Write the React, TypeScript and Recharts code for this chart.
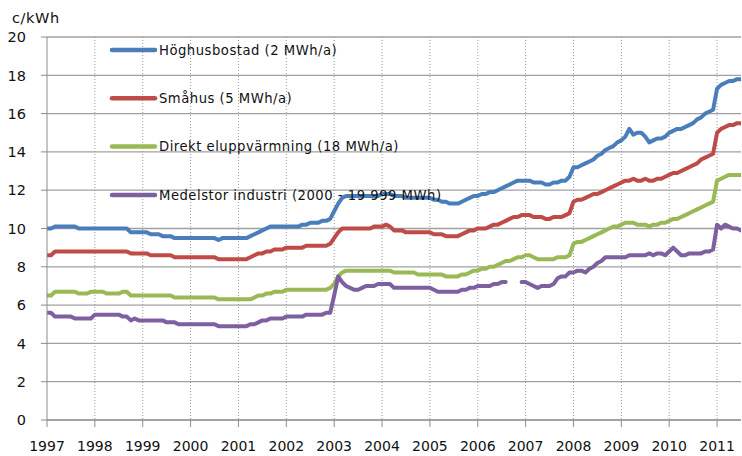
import React from 'react';
import { LineChart, Line, XAxis, YAxis, CartesianGrid, Legend } from 'recharts';

// monthly prices, c/kWh, Jan 1997 – Jul 2011
const hoghus = [
  10.0, 10.0, 10.1, 10.1, 10.1, 10.1, 10.1, 10.1, 10.0, 10.0, 10.0, 10.0,
  10.0, 10.0, 10.0, 10.0, 10.0, 10.0, 10.0, 10.0, 10.0, 9.8, 9.8, 9.8,
  9.8, 9.8, 9.7, 9.7, 9.7, 9.6, 9.6, 9.6, 9.5, 9.5, 9.5, 9.5,
  9.5, 9.5, 9.5, 9.5, 9.5, 9.5, 9.5, 9.4, 9.5, 9.5, 9.5, 9.5,
  9.5, 9.5, 9.5, 9.6, 9.7, 9.8, 9.9, 10.0, 10.1, 10.1, 10.1, 10.1,
  10.1, 10.1, 10.1, 10.1, 10.2, 10.2, 10.3, 10.3, 10.3, 10.4, 10.4, 10.5,
  10.9, 11.3, 11.6, 11.7, 11.7, 11.7, 11.7, 11.7, 11.7, 11.7, 11.7, 11.7,
  11.8, 11.8, 11.8, 11.7, 11.7, 11.7, 11.6, 11.6, 11.6, 11.6, 11.6, 11.6,
  11.6, 11.5, 11.5, 11.4, 11.4, 11.3, 11.3, 11.3, 11.4, 11.5, 11.6, 11.7,
  11.7, 11.8, 11.8, 11.9, 11.9, 12.0, 12.1, 12.2, 12.3, 12.4, 12.5, 12.5,
  12.5, 12.5, 12.4, 12.4, 12.4, 12.3, 12.3, 12.4, 12.4, 12.5, 12.5, 12.7,
  13.2, 13.2, 13.3, 13.4, 13.5, 13.6, 13.8, 13.9, 14.1, 14.2, 14.3, 14.5,
  14.6, 14.8, 15.2, 14.9, 15.0, 15.0, 14.8, 14.5, 14.6, 14.7, 14.7, 14.8,
  15.0, 15.1, 15.2, 15.2, 15.3, 15.4, 15.5, 15.7, 15.8, 16.0, 16.1, 16.2,
  17.3, 17.5, 17.6, 17.7, 17.7, 17.8, 17.8,
];

const smahus = [
  8.6, 8.6, 8.8, 8.8, 8.8, 8.8, 8.8, 8.8, 8.8, 8.8, 8.8, 8.8,
  8.8, 8.8, 8.8, 8.8, 8.8, 8.8, 8.8, 8.8, 8.8, 8.7, 8.7, 8.7,
  8.7, 8.7, 8.6, 8.6, 8.6, 8.6, 8.6, 8.6, 8.5, 8.5, 8.5, 8.5,
  8.5, 8.5, 8.5, 8.5, 8.5, 8.5, 8.5, 8.4, 8.4, 8.4, 8.4, 8.4,
  8.4, 8.4, 8.4, 8.5, 8.6, 8.7, 8.7, 8.8, 8.8, 8.9, 8.9, 8.9,
  9.0, 9.0, 9.0, 9.0, 9.0, 9.1, 9.1, 9.1, 9.1, 9.1, 9.1, 9.2,
  9.5, 9.8, 10.0, 10.0, 10.0, 10.0, 10.0, 10.0, 10.0, 10.0, 10.1, 10.1,
  10.1, 10.2, 10.1, 9.9, 9.9, 9.9, 9.8, 9.8, 9.8, 9.8, 9.8, 9.8,
  9.8, 9.7, 9.7, 9.7, 9.6, 9.6, 9.6, 9.6, 9.7, 9.8, 9.9, 9.9,
  10.0, 10.0, 10.0, 10.1, 10.2, 10.2, 10.3, 10.4, 10.5, 10.6, 10.6, 10.7,
  10.7, 10.7, 10.6, 10.6, 10.6, 10.5, 10.5, 10.6, 10.6, 10.6, 10.7, 10.8,
  11.4, 11.5, 11.5, 11.6, 11.7, 11.8, 11.8, 11.9, 12.0, 12.1, 12.2, 12.3,
  12.4, 12.5, 12.5, 12.6, 12.5, 12.5, 12.6, 12.5, 12.5, 12.6, 12.6, 12.7,
  12.8, 12.9, 12.9, 13.0, 13.1, 13.2, 13.3, 13.4, 13.6, 13.7, 13.8, 13.9,
  15.0, 15.2, 15.3, 15.4, 15.4, 15.5, 15.5,
];

const direkt = [
  6.5, 6.5, 6.7, 6.7, 6.7, 6.7, 6.7, 6.7, 6.6, 6.6, 6.6, 6.7,
  6.7, 6.7, 6.7, 6.6, 6.6, 6.6, 6.6, 6.7, 6.7, 6.5, 6.5, 6.5,
  6.5, 6.5, 6.5, 6.5, 6.5, 6.5, 6.5, 6.5, 6.4, 6.4, 6.4, 6.4,
  6.4, 6.4, 6.4, 6.4, 6.4, 6.4, 6.4, 6.3, 6.3, 6.3, 6.3, 6.3,
  6.3, 6.3, 6.3, 6.3, 6.4, 6.5, 6.5, 6.6, 6.6, 6.7, 6.7, 6.7,
  6.8, 6.8, 6.8, 6.8, 6.8, 6.8, 6.8, 6.8, 6.8, 6.8, 6.8, 6.9,
  7.1, 7.5, 7.7, 7.8, 7.8, 7.8, 7.8, 7.8, 7.8, 7.8, 7.8, 7.8,
  7.8, 7.8, 7.8, 7.7, 7.7, 7.7, 7.7, 7.7, 7.7, 7.6, 7.6, 7.6,
  7.6, 7.6, 7.6, 7.6, 7.5, 7.5, 7.5, 7.5, 7.6, 7.6, 7.7, 7.8,
  7.8, 7.9, 7.9, 8.0, 8.0, 8.1, 8.2, 8.3, 8.3, 8.4, 8.5, 8.5,
  8.6, 8.6, 8.5, 8.4, 8.4, 8.4, 8.4, 8.4, 8.5, 8.5, 8.5, 8.6,
  9.2, 9.3, 9.3, 9.4, 9.5, 9.6, 9.7, 9.8, 9.9, 10.0, 10.1, 10.1,
  10.2, 10.3, 10.3, 10.3, 10.2, 10.2, 10.2, 10.1, 10.2, 10.2, 10.3, 10.3,
  10.4, 10.5, 10.5, 10.6, 10.7, 10.8, 10.9, 11.0, 11.1, 11.2, 11.3, 11.4,
  12.5, 12.6, 12.7, 12.8, 12.8, 12.8, 12.8,
];

// null = no published value (autumn 2006)
const industri = [
  5.6, 5.6, 5.4, 5.4, 5.4, 5.4, 5.4, 5.3, 5.3, 5.3, 5.3, 5.3,
  5.5, 5.5, 5.5, 5.5, 5.5, 5.5, 5.5, 5.4, 5.4, 5.2, 5.3, 5.2,
  5.2, 5.2, 5.2, 5.2, 5.2, 5.2, 5.1, 5.1, 5.1, 5.0, 5.0, 5.0,
  5.0, 5.0, 5.0, 5.0, 5.0, 5.0, 5.0, 4.9, 4.9, 4.9, 4.9, 4.9,
  4.9, 4.9, 4.9, 5.0, 5.0, 5.1, 5.2, 5.2, 5.3, 5.3, 5.3, 5.3,
  5.4, 5.4, 5.4, 5.4, 5.4, 5.5, 5.5, 5.5, 5.5, 5.5, 5.6, 5.6,
  6.5, 7.5, 7.2, 7.0, 6.9, 6.8, 6.8, 6.9, 7.0, 7.0, 7.0, 7.1,
  7.1, 7.1, 7.1, 6.9, 6.9, 6.9, 6.9, 6.9, 6.9, 6.9, 6.9, 6.9,
  6.9, 6.8, 6.7, 6.7, 6.7, 6.7, 6.7, 6.7, 6.8, 6.8, 6.9, 6.9,
  7.0, 7.0, 7.0, 7.0, 7.1, 7.1, 7.2, 7.2, null, null, null, 7.2,
  7.2, 7.1, 7.0, 6.9, 7.0, 7.0, 7.0, 7.1, 7.4, 7.5, 7.5, 7.7,
  7.7, 7.8, 7.8, 7.7, 7.9, 8.0, 8.2, 8.3, 8.5, 8.5, 8.5, 8.5,
  8.5, 8.5, 8.6, 8.6, 8.6, 8.6, 8.6, 8.7, 8.6, 8.7, 8.7, 8.6,
  8.8, 9.0, 8.8, 8.6, 8.6, 8.7, 8.7, 8.7, 8.7, 8.8, 8.8, 8.9,
  10.2, 10.0, 10.2, 10.1, 10.0, 10.0, 9.9,
];

const years = [1997, 1998, 1999, 2000, 2001, 2002, 2003, 2004, 2005, 2006, 2007, 2008, 2009, 2010, 2011];
const yTicks = [0, 2, 4, 6, 8, 10, 12, 14, 16, 18, 20];

const series = [
  { key: 'hoghus', name: 'Höghusbostad (2 MWh/a)', color: '#4a7ebb' },
  { key: 'smahus', name: 'Småhus (5 MWh/a)', color: '#be4b48' },
  { key: 'direkt', name: 'Direkt eluppvärmning (18 MWh/a)', color: '#98b954' },
  { key: 'industri', name: 'Medelstor industri (2000 - 19 999 MWh)', color: '#7d60a0' },
];

const data = hoghus.map((v, i) => ({
  t: 1997 + i / 12,
  hoghus: v,
  smahus: smahus[i],
  direkt: direkt[i],
  industri: industri[i],
}));

const FONT = '"DejaVu Sans", Verdana, sans-serif';

const YTick = ({ y, payload }: any) => (
  <text x={26} y={y} dy="0.36em" textAnchor="end" fontFamily={FONT} fontSize={14.5} fill="#111">
    {payload.value}
  </text>
);

const LegendBox = () => (
  <svg width={380} height={180} style={{ overflow: 'visible' }}>
    {series.map((s, i) => {
      const y = 12 + i * 48.3;
      return (
        <g key={s.key}>
          <line x1={2} x2={45} y1={y} y2={y} stroke={s.color} strokeWidth={4.5} strokeLinecap="round" />
          <text x={49} y={y} dy="0.35em" fontFamily={FONT} fontSize={13.2} letterSpacing={0.5} fill="#111">
            {s.name}
          </text>
        </g>
      );
    })}
  </svg>
);

export default function App() {
  return (
    <div style={{ position: 'absolute', left: 0, top: 0, width: 742, height: 456, background: '#fff' }}>
      <div
        style={{
          position: 'absolute',
          left: 12,
          top: 9,
          fontFamily: FONT,
          fontSize: 14.5,
          letterSpacing: 0.6,
          color: '#111',
          lineHeight: '18px',
        }}
      >
        c/kWh
      </div>
      <LineChart width={742} height={456} data={data} margin={{ top: 37, right: 1, left: 0, bottom: 0 }}>
        <CartesianGrid horizontal={true} vertical={false} stroke="#a0a0a0" strokeWidth={1.3} />
        <CartesianGrid
          horizontal={false}
          vertical={true}
          stroke="#9a9a9a"
          strokeDasharray="1 2"
          verticalPoints={years.slice(1).map((yr) => 47 + ((yr - 1997) / 14.5) * 694)}
        />
        <XAxis
          dataKey="t"
          type="number"
          domain={[1997, 2011.5]}
          ticks={years}
          interval={0}
          allowDataOverflow
          height={36}
          tickSize={7}
          tickMargin={14}
          stroke="#8c8c8c"
          tick={{ fontFamily: FONT, fontSize: 14, fill: '#111' }}
        />
        <YAxis
          domain={[0, 20]}
          ticks={yTicks}
          interval={0}
          width={47}
          tickSize={6}
          stroke="#8c8c8c"
          tick={<YTick />}
        />
        <Legend
          layout="vertical"
          align="center"
          verticalAlign="middle"
          content={<LegendBox />}
          wrapperStyle={{ position: 'absolute', left: 110, top: 38, width: 380, height: 180 }}
        />
        {series.map((s) => (
          <Line
            key={s.key}
            type="linear"
            dataKey={s.key}
            name={s.name}
            stroke={s.color}
            strokeWidth={4}
            strokeLinejoin="round"
            strokeLinecap="round"
            dot={false}
            activeDot={false}
            connectNulls={false}
            isAnimationActive={false}
          />
        ))}
      </LineChart>
    </div>
  );
}
